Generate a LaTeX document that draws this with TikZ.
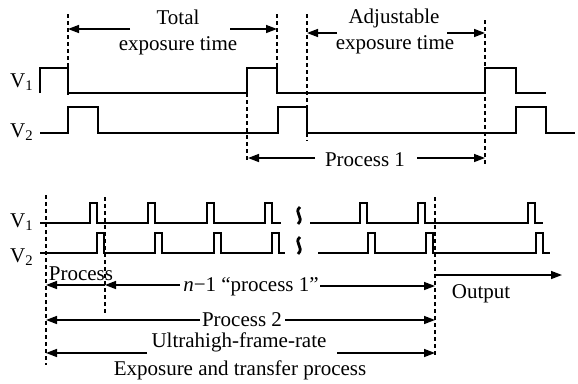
\documentclass[tikz,border=0pt]{standalone}
\usepackage{fontspec}
\setmainfont{Liberation Serif}
\usetikzlibrary{arrows.meta}

\begin{document}
\begin{tikzpicture}[x=1pt,y=-1pt]
\tikzstyle{wave}=[line width=1.6pt]
\tikzstyle{guide}=[line width=1.3pt, dash pattern=on 4pt off 3pt]
\tikzstyle{arr}=[line width=1.5pt, -{Triangle[length=11pt,width=8pt]}]
\tikzstyle{lbl}=[font=\fontsize{21}{23}\selectfont, inner sep=0pt, anchor=base]
\tikzstyle{brk}=[line width=2.8pt]

\useasboundingbox (0,0) rectangle (578,383);

% upper timing chart
\node[lbl, anchor=base west] (va1) at (10,87) {V\textsubscript{1}};
\node[lbl, anchor=base west] (va2) at (10,137) {V\textsubscript{2}};
\draw[wave] (40,93) -- (40,68) -- (68,68) -- (68,93) -- (247,93) -- (247,68) -- (277,68) -- (277,93)
  -- (485,93) -- (485,68) -- (516,68) -- (516,93) -- (546,93);
\draw[wave] (40,133) -- (68,133) -- (68,107) -- (98,107) -- (98,133) -- (278,133) -- (278,107)
  -- (307,107) -- (307,133) -- (516,133) -- (516,107) -- (546,107) -- (546,133) -- (575,133);

\draw[guide] (68,14) -- (68,97);
\draw[guide] (277,14) -- (277,68);
\draw[guide] (247,93) -- (247,160);
\draw[guide] (307,14) -- (307,141);
\draw[guide] (485,20) -- (485,164);

\node[lbl] (total) at (178,24) {Total};
\node[lbl] (exp1) at (178,50) {exposure time};
\coordinate (te1) at (130,29); \coordinate (te2) at (230,29);
\coordinate (g1) at (68,29); \coordinate (g2) at (277,29);
\draw[arr] (te1) -- (g1);
\draw[arr] (te2) -- (g2);

\node[lbl] (adj) at (394,23) {Adjustable};
\node[lbl] (exp2) at (395,49) {exposure time};
\coordinate (ae1) at (337,33); \coordinate (ae2) at (447,33);
\coordinate (g3) at (307,33); \coordinate (g4) at (485,33);
\draw[arr] (ae1) -- (g3);
\draw[arr] (ae2) -- (g4);

\node[lbl] (proc1) at (365,166) {Process 1};
\coordinate (pe1) at (315,158); \coordinate (pe2) at (417,158);
\coordinate (g5) at (248,158); \coordinate (g6) at (485,158);
\draw[arr] (pe1) -- (g5);
\draw[arr] (pe2) -- (g6);

% lower timing chart
\node[lbl, anchor=base west] (vb1) at (10,227) {V\textsubscript{1}};
\node[lbl, anchor=base west] (vb2) at (10,262) {V\textsubscript{2}};
\draw[wave] (40,223) foreach \a in {90,148,207,265} {
  -- (\a,223) -- (\a,203) -- (\a+7,203) -- (\a+7,223) } -- (281,223);
\draw[wave] (310,223) foreach \a in {360,418,528} {
  -- (\a,223) -- (\a,203) -- (\a+7,203) -- (\a+7,223) } -- (543,223);
\draw[wave] (40,253) foreach \a in {97,155,214,272} {
  -- (\a,253) -- (\a,233) -- (\a+7,233) -- (\a+7,253) } -- (285,253);
\draw[wave] (318,253) foreach \a in {368,426,536} {
  -- (\a,253) -- (\a,233) -- (\a+7,233) -- (\a+7,253) } -- (550,253);
\draw[brk] (300,207) .. controls (293,213) and (305,217) .. (298,224);
\draw[brk] (300,237) .. controls (293,243) and (305,247) .. (298,254);

\draw[guide] (46,195) -- (46,365);
\draw[guide] (105,197) -- (105,313);
\draw[guide] (435,197) -- (435,357);

\node[lbl] (proc) at (81,280) {Process};
\coordinate (h1) at (46,285); \coordinate (h2) at (105,285);
\draw[arr, {Triangle[length=11pt,width=8pt]}-] (h1) -- (h2);

\node[lbl] (nproc) at (251,291) {\textit{n}−1 “process 1”};
\coordinate (ne1) at (180,285); \coordinate (ne2) at (320,286);
\coordinate (h3) at (435,286);
\draw[arr] (ne1) -- (h2);
\draw[arr] (ne2) -- (h3);

\node[lbl] (out) at (481,298) {Output};
\coordinate (h4) at (435,275); \coordinate (oe) at (562,275);
\draw[arr] (h4) -- (oe);

\node[lbl] (proc2) at (242,326) {Process 2};
\node[lbl] (uhfr) at (239,347) {Ultrahigh-frame-rate};
\coordinate (qe1) at (200,320); \coordinate (qe2) at (285,320);
\coordinate (h5) at (46,320); \coordinate (h6) at (435,320);
\draw[arr] (qe1) -- (h5);
\draw[arr] (qe2) -- (h6);

\node[lbl] (etp) at (240,375) {Exposure and transfer process};
\coordinate (re1) at (147,353); \coordinate (re2) at (337,353);
\coordinate (h7) at (46,353); \coordinate (h8) at (435,353);
\draw[arr] (re1) -- (h7);
\draw[arr] (re2) -- (h8);
\end{tikzpicture}
\end{document}
